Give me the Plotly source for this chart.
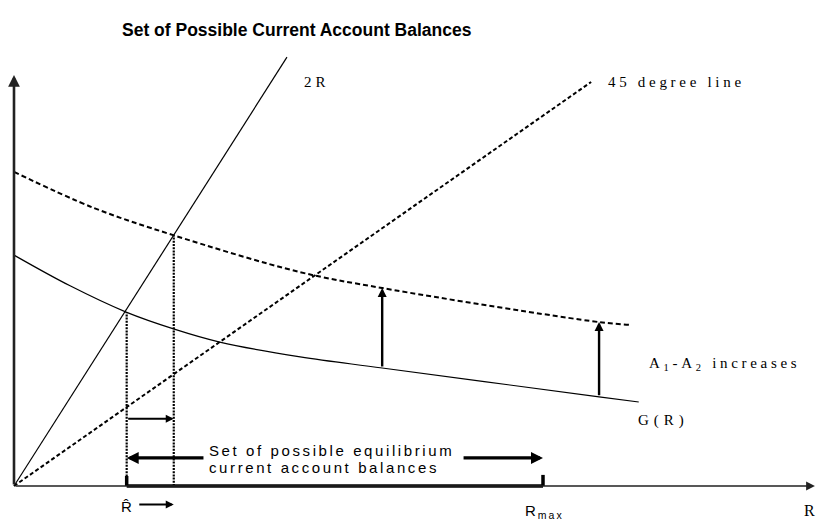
import plotly.graph_objects as go

# ---------------- data (chart units) ----------------
R_curve = [0.0, 1.06, 2.12, 3.03, 3.89, 5.41, 6.96, 11.06, 11.81]
G_curve = [6.24, 5.41, 4.70, 4.24, 3.89, 3.49, 3.19, 2.41, 2.27]
R_shift = [0.0, 1.50, 3.01, 5.41, 6.96, 11.06, 11.68]
G_shift = [8.49, 7.52, 6.78, 5.78, 5.35, 4.43, 4.35]
line45_R = [0.0, 10.91]
line45_V = [0.0, 10.92]
line2R_R = [0.0, 5.16]
line2R_V = [0.0, 11.59]
R_hat = 2.13
R_hat_G = 4.70
R_star = 3.02
R_star_G = 6.78
R_max = 10.0
R_axis_end = 15.14
V_axis_end = 11.11
shift_R = [6.96, 11.06]
shift_from = [3.19, 2.41]
shift_to = [5.35, 4.43]

TITLE = "Set of Possible Current Account Balances"
LBL_2R = "2R"
LBL_45 = "45 degree line"
LBL_A = "A<sub>1</sub>-A<sub>2</sub> increases"
LBL_G = "G(R)"
LBL_SET1 = "Set of possible equilibrium"
LBL_SET2 = "current account balances"
LBL_RHAT = "R\u0302"
LBL_RMAX = "R<sub>max</sub>"
LBL_R = "R"

# ---------------- layout helpers ----------------
W, H = 817, 529
UX, UY = 52.9, 37.0          # px per chart unit
OX, OY = 14, 486             # origin position in px
x_range = [-OX / UX, (W - OX) / UX]
y_range = [-(H - OY) / UY, OY / UY]

SERIF = "Liberation Serif, Times New Roman, serif"
SANS = "Liberation Sans, Arial, sans-serif"
BLACK = "#000000"


def spaced(text, ls):
    return '<span style="letter-spacing:%spx">%s</span>' % (ls, text)


def arrow(x, y, ax, ay, width, size, color=BLACK, head=2):
    return dict(x=x, y=y, ax=ax, ay=ay, xref="x", yref="y", axref="x", ayref="y",
                text="", showarrow=True, arrowhead=head, arrowwidth=width,
                arrowsize=size, arrowcolor=color, standoff=0)


def label(text, x, y, font, size, xanchor="left", yanchor="middle"):
    return dict(x=x, y=y, xref="x", yref="y", text=text, showarrow=False,
                xanchor=xanchor, yanchor=yanchor,
                font=dict(family=font, size=size, color=BLACK))


fig = go.Figure()

# 45 degree line
fig.add_trace(go.Scatter(x=line45_R, y=line45_V, mode="lines",
                         line=dict(color=BLACK, width=2, dash="4px,2.5px")))
# 2R line
fig.add_trace(go.Scatter(x=line2R_R, y=line2R_V, mode="lines",
                         line=dict(color=BLACK, width=1.2)))
# G(R)
fig.add_trace(go.Scatter(x=R_curve, y=G_curve, mode="lines",
                         line=dict(color=BLACK, width=1.2, shape="spline")))
# shifted G(R)
fig.add_trace(go.Scatter(x=R_shift, y=G_shift, mode="lines",
                         line=dict(color=BLACK, width=2, dash="5px,3px", shape="spline")))
# dotted verticals
fig.add_trace(go.Scatter(x=[R_hat, R_hat], y=[0, R_hat_G], mode="lines",
                         line=dict(color=BLACK, width=2.2, dash="2px,1.2px")))
fig.add_trace(go.Scatter(x=[R_star, R_star], y=[0, R_star_G], mode="lines",
                         line=dict(color=BLACK, width=2.2, dash="2px,1.2px")))
# thick segment of the R axis between R hat and R max, with end ticks
fig.add_trace(go.Scatter(x=[R_hat, R_max], y=[0, 0], mode="lines",
                         line=dict(color=BLACK, width=3.5)))
fig.add_trace(go.Scatter(x=[R_hat, R_hat], y=[0, 0.27], mode="lines",
                         line=dict(color=BLACK, width=3.5)))
fig.add_trace(go.Scatter(x=[R_max, R_max], y=[0, 0.30], mode="lines",
                         line=dict(color=BLACK, width=3.5)))

annotations = []
# axes with arrows
annotations.append(arrow(R_axis_end, 0, 0, 0, 1.6, 1.1, color="#222222"))
annotations.append(arrow(0, V_axis_end, 0, 0, 2.6, 0.9, color="#222222"))
# upward shift arrows
for r, a, b in zip(shift_R, shift_from, shift_to):
    annotations.append(arrow(r, b, r, a, 2.4, 0.75))
# small arrow between the dotted lines
annotations.append(arrow(R_star, 1.82, R_hat, 1.82, 2.0, 0.8))
# big arrows around the set label
annotations.append(arrow(R_hat, 0.76, 3.61, 0.76, 3.2, 0.75))
annotations.append(arrow(R_max, 0.76, 8.47, 0.76, 3.2, 0.75))
# small arrow under R hat
annotations.append(arrow(R_star, -0.50, 2.34, -0.50, 2.0, 0.8))

# labels
annotations.append(label(spaced(LBL_2R, 4), 5.44, 10.92, SERIF, 15))
annotations.append(label(spaced(LBL_45, 3.7), 11.19, 10.92, SERIF, 15))
annotations.append(label(spaced(LBL_A, 3.7), 11.97, 3.31, SERIF, 15))
annotations.append(label(spaced(LBL_G, 5), 11.76, 1.78, SERIF, 15))
annotations.append(label(spaced(LBL_SET1, 2.6), 3.65, 0.97, SANS, 15))
annotations.append(label(spaced(LBL_SET2, 2.6), 3.65, 0.51, SANS, 15))
annotations.append(label(LBL_RHAT, R_hat, -0.56, SANS, 15, xanchor="center"))
annotations.append(label(spaced(LBL_RMAX, 2), 9.62, -0.70, SANS, 15))
annotations.append(label(LBL_R, 15.03, -0.65, SERIF, 16, xanchor="center"))

fig.update_layout(
    width=W, height=H,
    margin=dict(l=0, r=0, t=0, b=0),
    paper_bgcolor="white", plot_bgcolor="white",
    showlegend=False,
    title=dict(text="<b>" + TITLE + "</b>", x=122 / W, xanchor="left",
               y=1 - 30 / H, yanchor="middle", xref="paper", yref="paper",
               font=dict(family=SANS, size=17.5, color=BLACK)),
    xaxis=dict(range=x_range, visible=False, fixedrange=True),
    yaxis=dict(range=y_range, visible=False, fixedrange=True),
    annotations=annotations,
)

fig.write_html("out.html",
               config={"displayModeBar": False, "staticPlot": True},
               post_script="document.body.style.margin='0px';")
